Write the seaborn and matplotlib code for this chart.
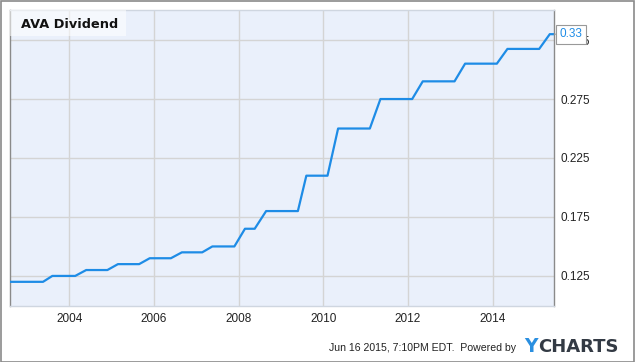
"""
AVA Dividend step chart (YCharts style)
"""

import matplotlib
matplotlib.use("Agg")
import matplotlib.pyplot as plt
import seaborn as sns
import pandas as pd
from matplotlib.patches import Rectangle

# Data: corner points of the dividend step line (decimal year, dividend)
years = [2002.6, 2003.38, 2003.6, 2004.14, 2004.4, 2004.9, 2005.15, 2005.65,
         2005.9, 2006.4, 2006.66, 2007.14, 2007.38, 2007.9, 2008.15, 2008.38,
         2008.65, 2009.4, 2009.6, 2010.1, 2010.35, 2011.1, 2011.35, 2012.1,
         2012.35, 2013.1, 2013.35, 2014.1, 2014.35, 2015.1, 2015.35, 2015.45]
dividend = [0.12, 0.12, 0.125, 0.125, 0.13, 0.13, 0.135, 0.135,
            0.14, 0.14, 0.145, 0.145, 0.15, 0.15, 0.165, 0.165,
            0.18, 0.18, 0.21, 0.21, 0.25, 0.25, 0.275, 0.275,
            0.29, 0.29, 0.305, 0.305, 0.3175, 0.3175, 0.33, 0.33]
x_ticks = [2004, 2006, 2008, 2010, 2012, 2014]
y_ticks = [0.125, 0.175, 0.225, 0.275, 0.325]
last_label = "0.33"
title = "AVA Dividend"

df = pd.DataFrame({"year": years, "dividend": dividend})

sns.set_style("white")
plt.rcParams['font.family'] = ['Liberation Sans', 'DejaVu Sans']

W, H = 635, 362
fig = plt.figure(figsize=(W / 100, H / 100), dpi=100)

# outer frame
fig.patches.append(Rectangle((0.5 / W, 0.5 / H), (W - 1.5) / W, (H - 1.5) / H,
                             transform=fig.transFigure, fill=False,
                             edgecolor='#8a8a8a', linewidth=1.2))

ax = fig.add_axes([10 / W, 1 - 306 / H, 544 / W, 296 / H])
ax.set_facecolor('#eaf0fb')

sns.lineplot(data=df, x="year", y="dividend", ax=ax, color='#1e8ce6',
             linewidth=1.6, zorder=3)

ymin, ymax = 0.0995, 0.3505
ax.set_xlim(2002.6, 2015.45)
ax.set_ylim(ymin, ymax)
ax.set_xticks(x_ticks)
ax.set_xticklabels([str(t) for t in x_ticks])
ax.set_yticks(y_ticks)
ax.set_yticklabels([f"{t:.3f}" for t in y_ticks])
ax.yaxis.tick_right()
ax.tick_params(axis='both', length=0, labelsize=8.5, colors='#222222')
ax.tick_params(axis='y', pad=5)
ax.tick_params(axis='x', pad=5)
ax.grid(True, color='#d4d4d4', linewidth=1)
ax.set_xlabel("")
ax.set_ylabel("")

for side in ['left', 'right']:
    ax.spines[side].set_color('#8a8a8a')
    ax.spines[side].set_linewidth(1)
for side in ['top', 'bottom']:
    ax.spines[side].set_color('#cfd6e0')
    ax.spines[side].set_linewidth(1)

# title box in top-left corner
ax.add_patch(Rectangle((0, 1 - 26 / 296), 116 / 544, 26 / 296,
                       transform=ax.transAxes, facecolor='white', alpha=0.55,
                       edgecolor='none', zorder=4))
ax.text(11 / 544, 1 - 14 / 296, title, transform=ax.transAxes,
        fontsize=9.3, fontweight='bold', family='DejaVu Sans',
        va='center', ha='left', color='#111111', zorder=5)

# last value callout (sits over the top tick label, as in the original)
ax.annotate(last_label, xy=(1, (dividend[-1] - ymin) / (ymax - ymin)),
            xycoords='axes fraction', xytext=(4, 0), textcoords='offset points',
            fontsize=8.5, color='#1e8ce6', va='center', ha='left',
            bbox=dict(boxstyle='square,pad=0.3', fc='white', ec='#999999', lw=0.8),
            arrowprops=dict(arrowstyle='-', color='#999999', lw=0.8),
            zorder=6, annotation_clip=False)

# footer
fig.text(516 / W, 1 - 348 / H, "Jun 16 2015, 7:10PM EDT.  Powered by",
         fontsize=7.6, ha='right', va='center', color='#222222')
fig.text(524 / W, 1 - 347 / H, "Y", fontsize=13.5, fontweight='bold',
         ha='left', va='center', color='#2a8fe0', family='DejaVu Sans')
fig.text(538 / W, 1 - 347 / H, "CHARTS", fontsize=13, fontweight='bold',
         ha='left', va='center', color='#333a44', family='DejaVu Sans')

fig.savefig("out.png", dpi=100)
